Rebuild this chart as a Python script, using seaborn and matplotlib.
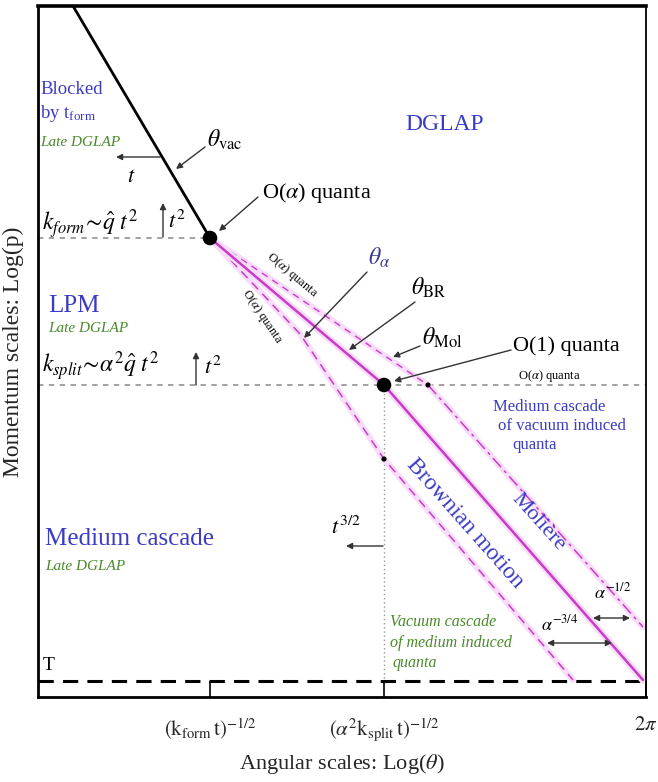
import matplotlib
matplotlib.use('Agg')
import matplotlib.pyplot as plt
import seaborn as sns
import numpy as np

sns.set_theme(style='white')
plt.rcParams['font.family'] = ['Liberation Serif', 'DejaVu Serif']
plt.rcParams['mathtext.fontset'] = 'stix'

# ---- data (schematic log-units: x = Log(theta), y = Log(p)) ----
vac_x = [35, 172]
vac_y = [691, 459]
br_x = [172, 346, 605]
br_y = [459, 312, 17]
alpha_x = [172, 262, 346, 535]
alpha_y = [459, 363, 238, 17]
mol_in_x = [172, 390]
mol_in_y = [459, 312]
mol_out_x = [390, 605]
mol_out_y = [312, 70]
kform_y = 459
ksplit_y = 312
T_y = 16
big_dots_x = [172, 346]
big_dots_y = [459, 312]
small_dots_x = [346, 390]
small_dots_y = [238, 312]
tick_pos = [172, 346, 608]
tick_labels = [r'$(\mathrm{k}_{\mathrm{form}}\,\mathrm{t})^{-1/2}$',
               r'$(\alpha^{2}\mathrm{k}_{\mathrm{split}}\,\mathrm{t})^{-1/2}$',
               r'$2\pi$']

MAG = '#c83cc8'
GLOW = '#f9dcf9'
BLUE = '#3b3bc4'
GREEN = '#4a8a2a'
GREY = '#9a9a9a'

fig = plt.figure(figsize=(6.58, 7.82), dpi=100)
ax = fig.add_axes([38/658, 85/782, 608/658, 691/782])
ax.set_xlim(0, 608)
ax.set_ylim(0, 691)


def P(x, y):
    return (x - 38, 697 - y)


def line(x, y, color, lw, dashes=None, glow=False):
    if glow:
        sns.lineplot(x=x, y=y, ax=ax, color=GLOW, lw=lw + 3.5, sort=False,
                     estimator=None, solid_capstyle='round')
    sns.lineplot(x=x, y=y, ax=ax, color=color, lw=lw, sort=False, estimator=None)
    if dashes is not None:
        ax.lines[-1].set_dashes(dashes)


# grey reference lines
line([0, 172], [kform_y, kform_y], GREY, 1.3, dashes=(3, 3))
line([0, 608], [ksplit_y, ksplit_y], GREY, 1.3, dashes=(3, 3))
line([346, 346], [ksplit_y, T_y], GREY, 1.0, dashes=(1, 2))
# T line
line([0, 608], [T_y, T_y], 'black', 2.2, dashes=(5, 3))

# magenta lines
line(mol_in_x, mol_in_y, MAG, 1.0, dashes=(5, 4), glow=True)
line(alpha_x, alpha_y, MAG, 1.1, dashes=(6, 4), glow=True)
line(mol_out_x, mol_out_y, MAG, 1.1, dashes=(8, 3, 2, 3), glow=True)
line(br_x, br_y, MAG, 1.8, glow=True)
# vacuum line
line(vac_x, vac_y, 'black', 2.0)

sns.scatterplot(x=big_dots_x, y=big_dots_y, ax=ax, color='black', s=110,
                edgecolor='none', zorder=5)
sns.scatterplot(x=small_dots_x, y=small_dots_y, ax=ax, color='black', s=14,
                edgecolor='none', zorder=5)

# axes styling
ax.set_yticks([])
ax.set_xticks(tick_pos)
ax.set_xticklabels(tick_labels, fontsize=15)
ax.tick_params(axis='x', bottom=True, direction='in', length=11.5, width=1.2,
               color='black', pad=14)
for s, w in [('left', 2.0), ('bottom', 2.0), ('top', 2.6), ('right', 1.3)]:
    ax.spines[s].set_color('black')
    ax.spines[s].set_linewidth(w)
ax.set_xlabel(r'Angular scales: Log($\theta$)', fontsize=16, labelpad=6)
ax.set_ylabel('Momentum scales: Log(p)', fontsize=17, labelpad=10)


def txt(x, y, s, size, color='black', ha='left', va='center', **kw):
    ax.text(*P(x, y), s, fontsize=size, color=color, ha=ha, va=va, **kw)


def arrow(x0, y0, x1, y1, style='-|>', color='#333333', lw=1.0):
    ax.annotate('', xy=P(x1, y1), xytext=P(x0, y0),
                arrowprops=dict(arrowstyle=style, color=color, lw=lw,
                                shrinkA=0, shrinkB=0, mutation_scale=9))


# left column labels
txt(40, 90, 'Blocked', 13.5, BLUE)
txt(40, 114, r'by $\mathregular{t}_{\mathregular{form}}$', 13.5, BLUE)
txt(40, 142, 'Late DGLAP', 11, GREEN, style='italic')
txt(48, 306, 'LPM', 18, BLUE)
txt(48, 328, 'Late DGLAP', 11, GREEN, style='italic')
txt(45, 539, 'Medium cascade', 18, BLUE)
txt(45, 566, 'Late DGLAP', 11, GREEN, style='italic')
txt(43, 666, 'T', 14)
txt(445, 125, 'DGLAP', 17, BLUE, ha='center')

# scale labels
txt(42, 224, r'$k_{form}\!\sim\!\hat{q}\ t^{2}$', 17)
txt(42, 366, r'$k_{split}\!\sim\!\alpha^{2}\hat{q}\ t^{2}$', 17)
arrow(163, 237, 163, 203)
txt(168, 222, r'$t^{2}$', 16)
arrow(196, 385, 196, 352)
txt(204, 368, r'$t^{2}$', 16)
arrow(160, 157, 116, 157)
txt(131, 177, r'$t$', 16, ha='center')
arrow(383, 546, 346, 546)
txt(346, 528, r'$t^{3/2}$', 16, ha='center')

# theta labels
txt(207, 140, r'$\theta_{\mathrm{vac}}$', 17)
arrow(205, 147, 176, 169)
txt(368, 258, r'$\theta_{\alpha}$', 17, '#3a3a90')
arrow(367, 272, 304, 338)
txt(411, 288, r'$\theta_{\mathrm{BR}}$', 17)
arrow(415, 302, 349, 350)
txt(422, 338, r'$\theta_{\mathrm{Mol}}$', 17)
arrow(420, 346, 393, 357)

# quanta labels
txt(262, 193, r'O($\alpha$) quanta', 16)
arrow(258, 197, 219, 231)
txt(513, 346, 'O(1) quanta', 16)
arrow(511, 350, 394, 381)
txt(518, 376, r'O($\alpha$) quanta', 9)
txt(292, 275, r'O($\alpha$) quanta', 9, rotation=-40, ha='center')
txt(262, 316, r'O($\alpha$) quanta', 9, rotation=-56, ha='center')

# medium / vacuum cascade annotations
txt(493, 407, 'Medium cascade', 12, BLUE)
txt(498, 426, 'of vacuum induced', 12, BLUE)
txt(512, 445, 'quanta', 12, BLUE)
txt(465, 523, 'Brownian motion', 17, BLUE, ha='center', rotation=-48.5)
txt(538, 522, 'Molière', 16, BLUE, ha='center', rotation=-48)
txt(390, 622, 'Vacuum cascade', 11.5, GREEN, style='italic')
txt(390, 643, 'of medium induced', 11.5, GREEN, style='italic')
txt(392, 663, 'quanta', 11.5, GREEN, style='italic')

txt(541, 624, r'$\alpha^{-3/4}$', 13)
arrow(547, 643, 612, 643, style='<|-|>')
txt(594, 592, r'$\alpha^{-1/2}$', 13)
arrow(593, 618, 630, 618, style='<|-|>')

fig.savefig('out.png', dpi=100)
